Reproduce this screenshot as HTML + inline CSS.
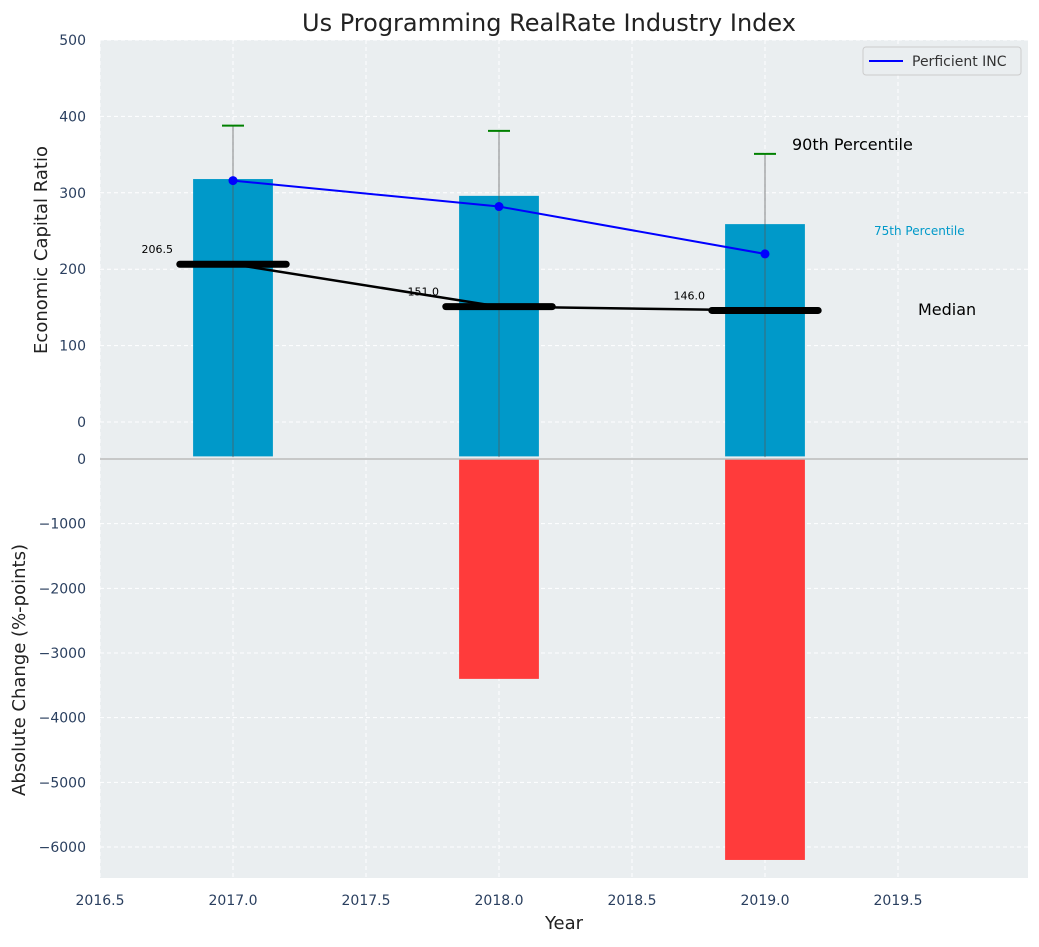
<!DOCTYPE html>
<html><head><meta charset="utf-8"><style>
body{margin:0;background:#fff;font-family:"Liberation Sans","DejaVu Sans",sans-serif}
svg text{font-family:"DejaVu Sans","Liberation Sans",sans-serif}
</style></head><body>
<svg id="c" width="1039" height="942"></svg>
<script>
const years=[2017,2018,2019];
const barVals=[318,296,259];
const lineVals=[316,282,220];
const errTop=[388,381,351];
const medians=[206.5,151,146];
const medianLabels=["206.5","151.0","146.0"];
const changeVals=[0,-3400,-6200];
const xTicks=[2016.5,2017,2017.5,2018,2018.5,2019,2019.5];
const yTopTicks=[0,100,200,300,400,500];
const yBotTicks=[0,-1000,-2000,-3000,-4000,-5000,-6000];
const NS="http://www.w3.org/2000/svg";
const svg=document.getElementById('c');
function el(t,a,p){const e=document.createElementNS(NS,t);for(const k in a)e.setAttribute(k,a[k]);(p||svg).appendChild(e);return e;}
const L=100,R=1028,T1=40,B1=459,T2=459,B2=878;
const x=v=>L+(v-2016.5)*266;
const y1=v=>422-v*0.764;
const y2=v=>459-v*0.06467;
let r=el('rect',{x:L,y:T1,width:R-L,height:B1-T1,fill:'#eaeef0'});

r=el('rect',{x:L,y:T2,width:R-L,height:B2-T2,fill:'#eaeef0'});

xTicks.forEach(t=>{let g=el('line',{x1:x(t),x2:x(t),y1:T1,y2:B2,stroke:'#fff','stroke-dasharray':'4,3','stroke-width':1});
 let tx=el('text',{x:x(t),y:905,'text-anchor':'middle','font-size':14,fill:'#2a3f5f'});tx.textContent=t.toFixed(1);});
yTopTicks.forEach(t=>{let g=el('line',{x1:L,x2:R,y1:y1(t),y2:y1(t),stroke:'#fff','stroke-dasharray':'4,3'});
 let tx=el('text',{x:86,y:y1(t)+5,'text-anchor':'end','font-size':14,fill:'#2a3f5f'});tx.textContent=t;});
yBotTicks.forEach(t=>{let g=el('line',{x1:L,x2:R,y1:y2(t),y2:y2(t),stroke:'#fff','stroke-dasharray':'4,3'});
 let tx=el('text',{x:86,y:y2(t)+5,'text-anchor':'end','font-size':14,fill:'#2a3f5f'});tx.textContent=t===0?'0':'\u2212'+Math.abs(t);});
years.forEach((yr,i)=>{let b=el('rect',{x:x(yr-0.15),y:y1(barVals[i]),width:0.3*266,height:y1(-45)-y1(barVals[i]),fill:'#0099c9'});
 let e=el('line',{x1:x(yr),x2:x(yr),y1:y1(errTop[i]),y2:y1(-46),stroke:'#555','stroke-width':1,'stroke-opacity':0.7});
 let c=el('line',{x1:x(yr)-11,x2:x(yr)+11,y1:y1(errTop[i]),y2:y1(errTop[i]),stroke:'green','stroke-width':2});
 if(changeVals[i]<0){let rb=el('rect',{x:x(yr-0.15),y:y2(0),width:0.3*266,height:y2(changeVals[i])-y2(0),fill:'#ff3b3b'});}
});
el('line',{x1:L,x2:R,y1:459,y2:459,stroke:'#bbb','stroke-width':1.5});
let mp=el('polyline',{points:years.map((yr,i)=>x(yr)+','+y1(medians[i])).join(' '),fill:'none',stroke:'#000','stroke-width':2.5});

years.forEach((yr,i)=>{let m=el('line',{x1:x(yr-0.2),x2:x(yr+0.2),y1:y1(medians[i]),y2:y1(medians[i]),stroke:'#000','stroke-width':7,'stroke-linecap':'round'});
 let t=el('text',{x:x(yr)-60,y:y1(medians[i])-11,'text-anchor':'end','font-size':11,fill:'#000'});t.textContent=medianLabels[i];});
let lp=el('polyline',{points:years.map((yr,i)=>x(yr)+','+y1(lineVals[i])).join(' '),fill:'none',stroke:'blue','stroke-width':2});

years.forEach((yr,i)=>{let p=el('circle',{cx:x(yr),cy:y1(lineVals[i]),r:4.5,fill:'blue'});});
let a=el('text',{x:792,y:150,'font-size':16,fill:'#000'});a.textContent='90th Percentile';
a=el('text',{x:874,y:235,'font-size':12,fill:'#0099c9'});a.textContent='75th Percentile';
a=el('text',{x:918,y:315,'font-size':16,fill:'#000'});a.textContent='Median';
let lg=el('g',{});
el('rect',{x:863,y:47,width:158,height:28,rx:3,fill:'#eaeef0',stroke:'#ccc'},lg);
el('line',{x1:869,x2:903,y1:61,y2:61,stroke:'blue','stroke-width':2},lg);
a=el('text',{x:912,y:66,'font-size':14,fill:'#333'},lg);a.textContent='Perficient INC';
a=el('text',{x:549,y:31,'text-anchor':'middle','font-size':24,fill:'#222'});a.textContent='Us Programming RealRate Industry Index';
a=el('text',{x:564,y:929,'text-anchor':'middle','font-size':18,fill:'#222'});a.textContent='Year';
a=el('text',{x:0,y:0,'text-anchor':'middle','font-size':18,fill:'#222',transform:'translate(47,250) rotate(-90)'});a.textContent='Economic Capital Ratio';
a=el('text',{x:0,y:0,'text-anchor':'middle','font-size':18,fill:'#222',transform:'translate(25,670) rotate(-90)'});a.textContent='Absolute Change (%-points)';
</script>
</body></html>
